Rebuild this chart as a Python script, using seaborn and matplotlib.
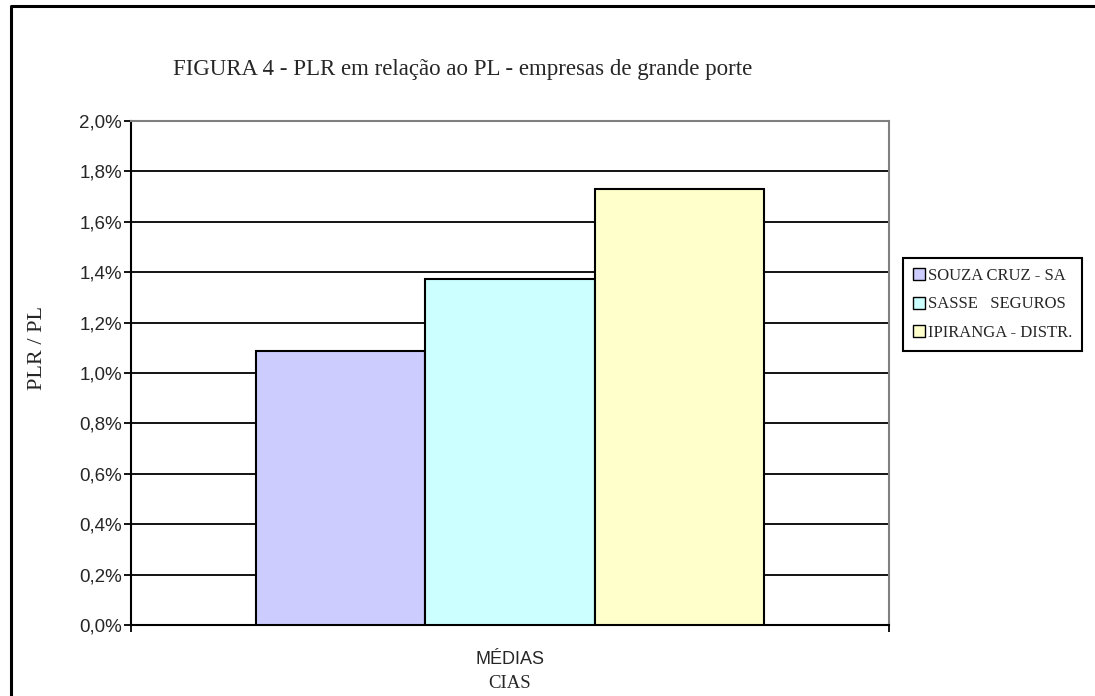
import matplotlib
matplotlib.use("Agg")
import matplotlib.pyplot as plt
from matplotlib.lines import Line2D
from matplotlib.ticker import FuncFormatter, MultipleLocator
import seaborn as sns
import pandas as pd

categories = ["MÉDIAS CIAS"]
companies = ["SOUZA CRUZ - SA", "SASSE   SEGUROS", "IPIRANGA - DISTR."]
values = [1.087, 1.374, 1.730]  # PLR / PL in %
colors = ["#CCCCFF", "#CCFFFF", "#FFFFCC"]
title = "FIGURA 4 - PLR em relação ao PL - empresas de grande porte"
ylabel = "PLR / PL"

df = pd.DataFrame({"cat": categories * len(companies), "empresa": companies, "valor": values})

sns.set_theme(style="white")
plt.rcParams["font.family"] = ["Liberation Sans", "DejaVu Sans"]

W, H = 1095, 696
fig = plt.figure(figsize=(W / 100, H / 100), dpi=100)
ax = fig.add_axes([131 / W, 1 - 625 / H, (889 - 131) / W, (625 - 121) / H])

sns.barplot(data=df, x="cat", y="valor", hue="empresa", hue_order=companies,
            palette=colors, width=0.669, edgecolor="black", linewidth=1.5,
            saturation=1, ax=ax, legend=True, zorder=3)

ax.set_xlim(-0.5, 0.5)
ax.set_ylim(0, 2.0)
ax.yaxis.set_major_locator(MultipleLocator(0.2))
ax.yaxis.set_major_formatter(FuncFormatter(lambda v, p: f"{v:.1f}%".replace(".", ",")))
ax.grid(axis="y", color="black", linewidth=1.3, zorder=0)
ax.set_axisbelow(True)
ax.tick_params(axis="y", which="major", direction="out", length=5, width=1.3,
               color="black", left=True, pad=1.5, labelsize=13.5)
for lab in ax.get_yticklabels():
    lab.set_fontfamily("Liberation Sans")
ax.set_xticks([-0.5, 0.5])
ax.set_xticklabels(["", ""])
ax.tick_params(axis="x", direction="out", length=5, width=1.3, color="black", bottom=True)

for side in ["left", "bottom"]:
    ax.spines[side].set_color("black")
    ax.spines[side].set_linewidth(1.5)
for side in ["top", "right"]:
    ax.spines[side].set_color("#808080")
    ax.spines[side].set_linewidth(1.5)

ax.set_xlabel("")
ax.set_ylabel("")

# Category label (two lines, different faces as in the original)
fig.text(510 / W, 1 - 660 / H, "MÉDIAS", ha="center", va="center",
         fontsize=13, family="Liberation Sans")
fig.text(510 / W, 1 - 683 / H, "CIAS", ha="center", va="center",
         fontsize=13.5, family="Liberation Serif")

fig.text(38 / W, 1 - 348 / H, ylabel, rotation=90, ha="center", va="center",
         fontsize=16, family="Liberation Serif")
fig.text(463 / W, 1 - 70 / H, title, ha="center", va="center",
         fontsize=16.5, family="Liberation Serif")

leg = ax.legend(loc="upper left", bbox_to_anchor=(903 / W, 1 - 258 / H),
                bbox_transform=fig.transFigure, frameon=True, fancybox=False,
                edgecolor="black", framealpha=1, handlelength=0.7, handleheight=0.7,
                handletextpad=0.2, borderpad=0.6, labelspacing=0.75, borderaxespad=0,
                prop={"family": "Liberation Serif", "size": 12}, title=None)
leg.get_frame().set_linewidth(1.5)
for h in leg.legend_handles:
    h.set_edgecolor("black")
    h.set_linewidth(1.0)

# outer chart border (left and top only visible)
fig.add_artist(Line2D([11 / W, 11 / W, 1], [0, 1 - 6 / H, 1 - 6 / H],
                      transform=fig.transFigure, color="black", linewidth=2.2))

fig.savefig("out.png", dpi=100, facecolor="white")
